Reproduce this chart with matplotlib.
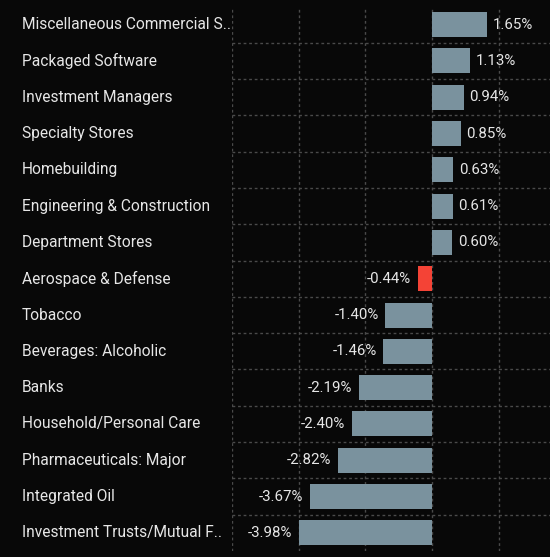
import numpy as np
import matplotlib
matplotlib.use("Agg")
from matplotlib import pyplot as plt
from matplotlib import transforms

categories = ["Miscellaneous Commercial S..", "Packaged Software", "Investment Managers",
              "Specialty Stores", "Homebuilding", "Engineering & Construction",
              "Department Stores", "Aerospace & Defense", "Tobacco", "Beverages: Alcoholic",
              "Banks", "Household/Personal Care", "Pharmaceuticals: Major",
              "Integrated Oil", "Investment Trusts/Mutual F.."]
values = [1.65, 1.13, 0.94, 0.85, 0.63, 0.61, 0.60, -0.44, -1.40, -1.46,
          -2.19, -2.40, -2.82, -3.67, -3.98]
highlight = "Aerospace & Defense"

plt.rcParams['font.family'] = ['Roboto', 'DejaVu Sans']

fig = plt.figure(figsize=(5.5, 5.57), dpi=100)
fig.patch.set_facecolor('#080808')
ax = fig.add_axes([232/550, 1-551/557, 1-232/550, (551-6.5)/557])
ax.set_facecolor('#080808')

y = np.arange(len(categories))
colors = ['#f44336' if c == highlight else '#7a929e' for c in categories]
ax.barh(y, values, height=0.69, color=colors, zorder=3)

ax.set_xlim(-6, 3.53)
ax.set_ylim(len(categories) - 0.5, -0.5)
ax.set_xticks([-6, -4, -2, 0, 2])
ax.set_yticks(y[:-1] + 0.5)
ax.grid(True, color='#4a4a4a', linestyle=(0, (2, 2)), linewidth=1, zorder=0)
ax.tick_params(length=0, labelbottom=False, labelleft=False)
for s in ax.spines.values():
    s.set_visible(False)

for yi, v in zip(y, values):
    label = f"{v:.2f}%"
    if v >= 0:
        ax.annotate(label, (v, yi), xytext=(4, 0), textcoords='offset points',
                    ha='left', va='center', color='#e6e6e6', fontsize=10.8)
    else:
        ax.annotate(label, (v, yi), xytext=(-5, 0), textcoords='offset points',
                    ha='right', va='center', color='#e6e6e6', fontsize=10.8)

trans = transforms.blended_transform_factory(fig.transFigure, ax.transData)
for yi, c in zip(y, categories):
    ax.text(22/550, yi, c, transform=trans, ha='left', va='center',
            color='#e6e6e6', fontsize=11.2, clip_on=False)

fig.savefig("out.png", facecolor=fig.get_facecolor())
